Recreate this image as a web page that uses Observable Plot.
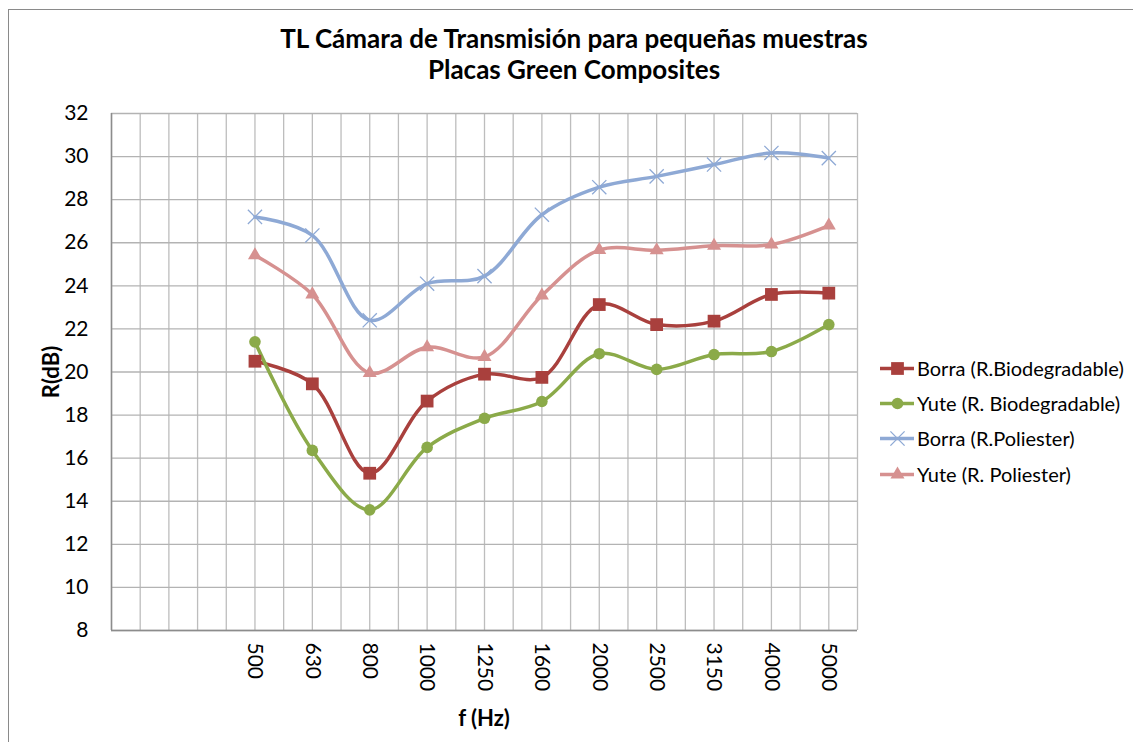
<!DOCTYPE html>
<html><head><meta charset="utf-8">
<script src="https://cdn.jsdelivr.net/npm/d3@7"></script>
<script src="https://cdn.jsdelivr.net/npm/@observablehq/plot@0.6"></script>
<style>
body{margin:0;background:#fff;}
#wrap{position:relative;width:1133px;height:742px;overflow:hidden;font-family:Lato,"Open Sans",sans-serif;color:#000;}
#wrap svg.plot{position:absolute;left:0;top:0;}
.title{position:absolute;left:224px;width:700px;text-align:center;font-weight:bold;font-size:26px;line-height:31px;top:23px;}
.ylab{position:absolute;left:50px;top:372px;font-weight:bold;font-size:22px;transform:translate(-50%,-50%) rotate(-90deg);white-space:nowrap;}
.xlab{position:absolute;left:484px;top:717px;font-weight:bold;font-size:22px;transform:translate(-50%,-50%);white-space:nowrap;}
.legend{position:absolute;left:880px;top:350px;}
.legend .item{display:flex;align-items:center;height:35.3px;font-size:20px;white-space:nowrap;}
.legend svg{margin-right:3px;}
.bt{position:absolute;left:8px;top:9px;width:1125px;height:0;border-top:1.5px solid #8a8a8a;}
.bl{position:absolute;left:8px;top:9px;width:0;height:733px;border-left:1.5px solid #8a8a8a;}
</style></head><body><div id="wrap"></div>
<script>
const titleLines = ["TL Cámara de Transmisión para pequeñas muestras", "Placas Green Composites"];
const yTitle = "R(dB)";
const xTitle = "f (Hz)";
const categories = ["", "", "500", "630", "800", "1000", "1250", "1600", "2000", "2500", "3150", "4000", "5000"];
const freqs = ["500", "630", "800", "1000", "1250", "1600", "2000", "2500", "3150", "4000", "5000"];
const yTicks = [8, 10, 12, 14, 16, 18, 20, 22, 24, 26, 28, 30, 32];
const seriesNames = ["Borra (R.Biodegradable)", "Yute (R. Biodegradable)", "Borra (R.Poliester)", "Yute (R. Poliester)"];
const borraBio = [20.5, 19.45, 15.3, 18.65, 19.9, 19.75, 23.13, 22.2, 22.36, 23.6, 23.66];
const yuteBio = [21.4, 16.36, 13.6, 16.5, 17.85, 18.63, 20.85, 20.12, 20.81, 20.95, 22.2];
const borraPoli = [27.2, 26.34, 22.4, 24.1, 24.45, 27.3, 28.58, 29.08, 29.63, 30.17, 29.93];
const yutePoli = [25.42, 23.6, 19.95, 21.15, 20.7, 23.55, 25.66, 25.65, 25.86, 25.92, 26.8];

const seriesValues = [borraBio, yuteBio, borraPoli, yutePoli];
const colors = ["#A9403D", "#8BAA49", "#8EA9D5", "#D69190"];
const symbols = ["square", "circle", "times", "triangle"];
const radii = [7.2, 5.8, 6.5, 5.2];

const xPos = f => categories.indexOf(f) + 0.5;
const rows = [];
seriesValues.forEach((vals, s) => vals.forEach((v, i) => rows.push({x: xPos(freqs[i]), y: v, s})));

const marks = [
  Plot.ruleX(d3.range(0, categories.length + 0.01, 0.5), {stroke: "#bdbdbd", strokeWidth: 1.3}),
  Plot.ruleY(yTicks, {stroke: "#b3b3b3", strokeWidth: 1.3}),
  Plot.ruleX([0], {stroke: "#8c8c8c", strokeWidth: 1.5}),
  Plot.ruleY([yTicks[0]], {stroke: "#8c8c8c", strokeWidth: 1.5}),
  Plot.axisY(yTicks, {tickSize: 0, tickPadding: 23, fontSize: 21, label: null}),
  Plot.axisX(freqs.map(xPos), {tickSize: 0, tickPadding: 12, tickRotate: 90, fontSize: 21, label: null,
    tickFormat: d => categories[Math.floor(d)]})
];
seriesValues.forEach((vals, s) => {
  const data = rows.filter(r => r.s === s);
  marks.push(Plot.line(data, {x: "x", y: "y", stroke: colors[s], strokeWidth: 3.5, curve: "catmull-rom"}));
});
seriesValues.forEach((vals, s) => {
  const data = rows.filter(r => r.s === s);
  if (symbols[s] === "times")
    marks.push(Plot.dot(data, {x: "x", y: "y", symbol: "times", r: radii[s], stroke: colors[s], strokeWidth: 1.3, fill: "none"}));
  else
    marks.push(Plot.dot(data, {x: "x", y: "y", symbol: symbols[s], r: radii[s], fill: colors[s], stroke: "none"}));
});

const chart = Plot.plot({
  width: 1133, height: 742,
  marginLeft: 111, marginRight: 276, marginTop: 113, marginBottom: 112,
  x: {domain: [0, categories.length], axis: null},
  y: {domain: [yTicks[0], yTicks[yTicks.length - 1]], axis: null},
  style: {fontFamily: "Lato, 'Open Sans', sans-serif", fontSize: "21px", color: "#000", background: "transparent"},
  marks
});
chart.classList.add("plot");

const wrap = document.getElementById("wrap");
wrap.innerHTML = `<div class="bt"></div><div class="bl"></div>`;
wrap.appendChild(chart);
const t = document.createElement("div"); t.className = "title";
t.innerHTML = titleLines.join("<br>"); wrap.appendChild(t);
const yl = document.createElement("div"); yl.className = "ylab"; yl.textContent = yTitle; wrap.appendChild(yl);
const xl = document.createElement("div"); xl.className = "xlab"; xl.textContent = xTitle; wrap.appendChild(xl);

const lg = document.createElement("div"); lg.className = "legend";
seriesNames.forEach((name, s) => {
  const it = document.createElement("div"); it.className = "item";
  const sw = Plot.plot({
    width: 34, height: 16, margin: 0,
    x: {domain: [0, 1], axis: null}, y: {domain: [0, 1], axis: null},
    style: {background: "transparent"},
    marks: [
      Plot.ruleY([0.5], {stroke: colors[s], strokeWidth: 3.5}),
      symbols[s] === "times"
        ? Plot.dot([0.5], {x: d => d, y: d => d, symbol: "times", r: radii[s], stroke: colors[s], strokeWidth: 1.3})
        : Plot.dot([0.5], {x: d => d, y: d => d, symbol: symbols[s], r: radii[s], fill: colors[s]})
    ]
  });
  it.appendChild(sw);
  const sp = document.createElement("span"); sp.textContent = name; it.appendChild(sp);
  lg.appendChild(it);
});
wrap.appendChild(lg);
</script>
</body></html>
